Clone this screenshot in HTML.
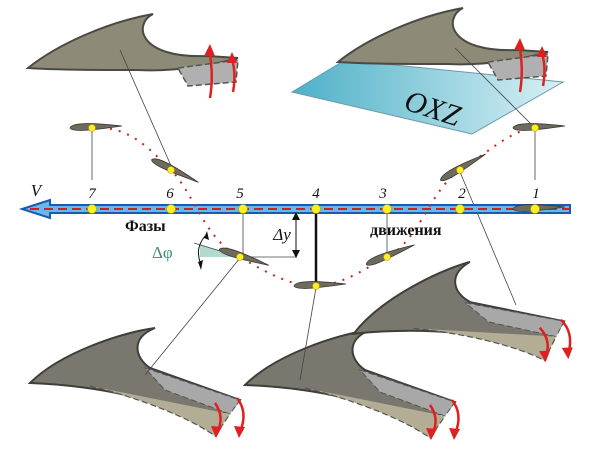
<!DOCTYPE html>
<html><head><meta charset="utf-8"><style>body{margin:0;background:#fff}svg{display:block}text{font-family:"Liberation Serif",serif}</style></head><body>
<svg width="600" height="450" viewBox="0 0 600 450" xmlns="http://www.w3.org/2000/svg">
<defs>
<linearGradient id="pl" x1="0" y1="0" x2="1" y2="0"><stop offset="0" stop-color="#4eb0c8"/><stop offset="1" stop-color="#d8f0f4"/></linearGradient>
<g id="foil"><path d="M-22,0 C-20,-5 -5,-6 30,-2 C-5,3 -20,4 -22,0 Z" fill="#6e6a5e" stroke="#3a3a36" stroke-width="0.8"/></g>
<g id="wingT">
<path d="M0,54 C30,30 80,8 125,0 C105,10 110,45 180,42 L210,44 C190,50 150,58 110,56 C70,56 30,56 0,54 Z" fill="#8e8a78" stroke="#4a4a44" stroke-width="2"/>
<path d="M150,54 L210,46 L208,68 L160,72 Z" fill="#b0b0b0" stroke="#555" stroke-width="1.5" stroke-dasharray="6,3"/>
<path d="M182,84 C186,60 182,45 182,38" stroke="#e02020" stroke-width="2.5" fill="none"/><path d="M176,42 L182,30 L187,42Z" fill="#e02020"/>
<path d="M205,78 C208,62 206,52 204,45" stroke="#e02020" stroke-width="2.5" fill="none"/><path d="M199,49 L204,38 L209,49Z" fill="#e02020"/>
</g>
<g id="wingB">
<path d="M0,55 C30,25 90,5 125,0 C100,10 105,30 120,40 L210,72 C200,85 180,92 170,90 C130,75 80,58 0,55 Z" fill="#7a786e" stroke="#3e3e3a" stroke-width="2"/>
<path d="M115,40 L210,72 L200,86 L135,62 Z" fill="#a8a8a8" stroke="#555" stroke-width="1" stroke-dasharray="6,3"/>
<path d="M60,58 C110,70 160,90 185,108 L200,86" fill="#b3ad95" stroke="#555" stroke-width="1.2" stroke-dasharray="6,3"/>
<path d="M185,75 C192,85 192,95 187,104" stroke="#e02020" stroke-width="2.5" fill="none"/><path d="M181,98 L186,110 L192,99Z" fill="#e02020"/>
<path d="M207,70 C215,80 215,92 210,104" stroke="#e02020" stroke-width="2.5" fill="none"/><path d="M204,98 L209,110 L215,99Z" fill="#e02020"/>
</g>
</defs>
<!-- plane -->
<path d="M292,92 L345,60 L563,82 L472,134 Z" fill="url(#pl)" stroke="#6a9aa8" stroke-width="1"/>
<text x="432" y="118" font-size="30" font-style="italic" transform="rotate(18 432 110)" text-anchor="middle" fill="#111">OXZ</text>
<!-- wings -->
<use href="#wingT" x="28" y="14"/>
<use href="#wingT" x="338" y="8"/>
<use href="#wingB" x="30" y="328"/>
<use href="#wingB" x="245" y="330"/>
<use href="#wingB" x="350" y="265" transform="rotate(-8 450 300)"/>
<!-- leader lines -->
<g stroke="#444" stroke-width="0.8">
<line x1="120" y1="50" x2="172" y2="168"/><line x1="455" y1="48" x2="533" y2="126"/>
<line x1="460" y1="172" x2="516" y2="305"/><line x1="240" y1="258" x2="145" y2="375"/>
<line x1="316" y1="288" x2="300" y2="380"/><line x1="92" y1="130" x2="92" y2="180"/>
<line x1="535" y1="130" x2="535" y2="180"/><line x1="243" y1="214" x2="243" y2="257"/>
<line x1="387" y1="214" x2="387" y2="257"/><line x1="240" y1="257" x2="297" y2="257"/>
</g>
<polygon points="200,245 240,257 200,257" fill="#9fd0c0" opacity="0.8"/>
<line x1="194" y1="243" x2="240" y2="257" stroke="#444" stroke-width="0.8"/>
<path d="M205,236 C198,245 197,252 200,262" stroke="#111" fill="none" stroke-width="1"/>
<path d="M204,238 L207,231 L209,240Z M198,262 L201,270 L203,260Z" fill="#111"/>
<!-- axis -->
<path d="M50,205 L570,205 L570,213 L50,213 L50,218 L22,209 L50,200 Z" fill="#6ab8e8" stroke="#1a5ab0" stroke-width="2"/>
<line x1="30" y1="209" x2="570" y2="209" stroke="#d02020" stroke-width="2" stroke-dasharray="9,5"/>
<use href="#foil" x="535" y="209"/>
<line x1="316" y1="209" x2="316" y2="287" stroke="#111" stroke-width="2.5"/>
<line x1="296" y1="213" x2="296" y2="257" stroke="#111" stroke-width="1"/>
<path d="M292,220 L296,212 L300,220Z M292,250 L296,258 L300,250Z" fill="#111"/>
<!-- trajectory -->
<path d="M92,128 C130,125 150,150 171,170 C195,195 205,240 240,257 C270,275 295,287 316,286 C345,285 370,265 387,257 C420,240 430,190 460,170 C485,155 510,130 535,128" fill="none" stroke="#d02020" stroke-width="2" stroke-dasharray="2,7"/>
<!-- small foils -->
<use href="#foil" x="92" y="128"/>
<use href="#foil" x="171" y="170" transform="rotate(28 171 170)"/>
<use href="#foil" x="240" y="257" transform="rotate(20 240 257)"/>
<use href="#foil" x="316" y="286"/>
<use href="#foil" x="387" y="257" transform="rotate(-20 387 257)"/>
<use href="#foil" x="460" y="170" transform="rotate(-28 460 170)"/>
<use href="#foil" x="535" y="128"/>
<!-- dots -->
<g fill="#ffee22" stroke="#b0a000" stroke-width="0.6">
<circle cx="92" cy="209" r="4.5"/><circle cx="171" cy="209" r="4.5"/><circle cx="243" cy="209" r="4.5"/><circle cx="316" cy="209" r="4.5"/><circle cx="387" cy="209" r="4.5"/><circle cx="460" cy="209" r="4.5"/><circle cx="535" cy="209" r="4.5"/>
<circle cx="92" cy="128" r="3.5"/><circle cx="171" cy="170" r="3.5"/><circle cx="240" cy="257" r="3.5"/><circle cx="316" cy="286" r="3.5"/><circle cx="387" cy="257" r="3.5"/><circle cx="460" cy="170" r="3.5"/><circle cx="535" cy="128" r="3.5"/>
</g>
<!-- labels -->
<g font-size="15" font-style="italic" fill="#111" text-anchor="middle">
<text x="92" y="198">7</text><text x="170" y="198">6</text><text x="240" y="198">5</text><text x="316" y="198">4</text><text x="383" y="198">3</text><text x="462" y="198">2</text><text x="536" y="198">1</text>
<text x="36" y="196" font-size="17">V</text>
<text x="282" y="240" font-size="17">Δy</text>
</g>
<text x="125" y="231" font-size="16" font-weight="bold" fill="#111">Фазы</text>
<text x="370" y="235" font-size="16" font-weight="bold" fill="#111">движения</text>
<text x="152" y="258" font-size="17" fill="#3a8a78">Δφ</text>
</svg>
</body></html>
